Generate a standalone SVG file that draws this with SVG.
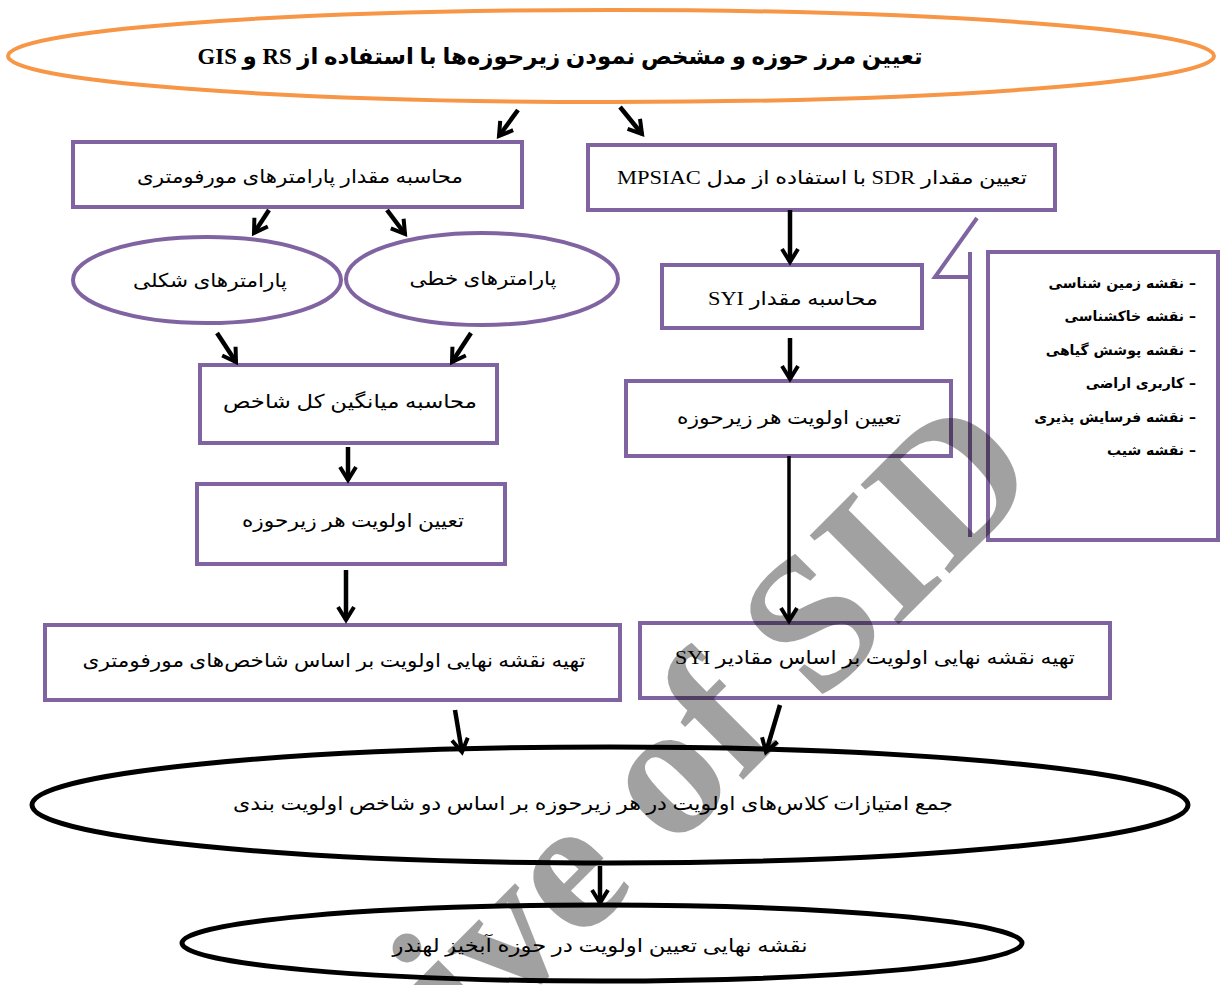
<svg xmlns="http://www.w3.org/2000/svg" width="1220" height="985" viewBox="0 0 1220 985">
<defs>
<style>
.bg{fill:#fff}
.box{fill:#fff;stroke:#8064A2;stroke-width:4}
.pell{fill:#fff;stroke:#8064A2;stroke-width:4}
.bell{fill:#fff;stroke:#000;stroke-width:5}
.oell{fill:#fff;stroke:#F79646;stroke-width:4}
.t{font-family:"Liberation Serif","DejaVu Sans",serif;font-size:19px;fill:#000;direction:rtl;text-anchor:middle}
.tb{font-family:"Liberation Serif","DejaVu Sans",serif;font-size:23px;font-weight:bold;fill:#000;direction:rtl;text-anchor:middle}
.li{font-family:"DejaVu Sans",sans-serif;font-size:14px;font-weight:bold;fill:#000;direction:rtl;text-anchor:start}
.ar{fill:none;stroke:#000;stroke-width:4.5;marker-end:url(#ah)}
.call{fill:none;stroke:#8064A2;stroke-width:4}
.wm{font-family:"Liberation Serif",serif;font-size:192px;font-weight:bold;fill:#000;fill-opacity:0.37;text-anchor:end}
</style>
<marker id="ah" viewBox="0 0 20 20" refX="16" refY="10" markerWidth="20" markerHeight="20" markerUnits="userSpaceOnUse" orient="auto">
<path d="M3,2 L16,10 L3,18" fill="none" stroke="#000" stroke-width="4"/>
</marker>
</defs>
<rect class="bg" x="0" y="0" width="1220" height="985"/>

<g id="top">
<ellipse class="oell" cx="611" cy="56" rx="603" ry="46"/>
<text class="tb" x="560" y="64" textLength="725" lengthAdjust="spacingAndGlyphs">تعیین مرز حوزه و مشخص نمودن زیرحوزه‌ها با استفاده از RS و GIS</text>
</g>

<g id="L1">
<rect class="box" x="73" y="142" width="449" height="65"/>
<text class="t" x="300" y="183" textLength="326" lengthAdjust="spacingAndGlyphs">محاسبه مقدار پارامترهای مورفومتری</text>
</g>

<g id="R1">
<rect class="box" x="588" y="145" width="467" height="65"/>
<text class="t" x="822" y="184" textLength="410" lengthAdjust="spacingAndGlyphs">تعیین مقدار SDR با استفاده از مدل MPSIAC</text>
</g>

<g id="E1">
<ellipse class="pell" cx="207" cy="280" rx="134" ry="43"/>
<text class="t" x="210" y="287" textLength="154" lengthAdjust="spacingAndGlyphs">پارامترهای شکلی</text>
</g>

<g id="E2">
<ellipse class="pell" cx="482" cy="279" rx="136" ry="46"/>
<text class="t" x="483" y="285" textLength="147" lengthAdjust="spacingAndGlyphs">پارامترهای خطی</text>
</g>

<g id="L2">
<rect class="box" x="200" y="365" width="297" height="78"/>
<text class="t" x="350" y="408" textLength="254" lengthAdjust="spacingAndGlyphs">محاسبه میانگین کل شاخص</text>
</g>

<g id="L3">
<rect class="box" x="197" y="484" width="308" height="80"/>
<text class="t" x="353" y="527" textLength="222" lengthAdjust="spacingAndGlyphs">تعیین اولویت هر زیرحوزه</text>
</g>

<g id="L4">
<rect class="box" x="45" y="625" width="575" height="75"/>
<text class="t" x="334" y="667" textLength="503" lengthAdjust="spacingAndGlyphs">تهیه نقشه نهایی اولویت بر اساس شاخص‌های مورفومتری</text>
</g>

<g id="R2">
<rect class="box" x="662" y="265" width="260" height="63"/>
<text class="t" x="793" y="305" textLength="170" lengthAdjust="spacingAndGlyphs">محاسبه مقدار SYI</text>
</g>

<g id="R3">
<rect class="box" x="626" y="381" width="325" height="75"/>
<text class="t" x="789" y="424" textLength="224" lengthAdjust="spacingAndGlyphs">تعیین اولویت هر زیرحوزه</text>
</g>

<g id="R4">
<rect class="box" x="640" y="623" width="470" height="75"/>
<text class="t" x="875" y="664" textLength="400" lengthAdjust="spacingAndGlyphs">تهیه نقشه نهایی اولویت بر اساس مقادیر SYI</text>
</g>

<g id="B1">
<ellipse class="bell" cx="610" cy="805" rx="578" ry="58"/>
<text class="t" x="593" y="810" textLength="720" lengthAdjust="spacingAndGlyphs">جمع امتیازات کلاس‌های اولویت در هر زیرحوزه بر اساس دو شاخص اولویت بندی</text>
</g>

<g id="B2">
<ellipse class="bell" cx="602" cy="943" rx="420" ry="38"/>
<text class="t" x="600" y="952" textLength="415" lengthAdjust="spacingAndGlyphs">نقشه نهایی تعیین اولویت در حوزه آبخیز لهندر</text>
</g>

<g id="legend">
<path class="call" d="M977,218 L935,277 L970,277 M970,252 L970,537"/>
<rect class="box" x="988" y="252" width="230" height="288"/>
<text class="li" x="1196" y="288">– نقشه زمین شناسی</text>
<text class="li" x="1196" y="321">– نقشه خاکشناسی</text>
<text class="li" x="1196" y="355">– نقشه  پوشش گیاهی</text>
<text class="li" x="1196" y="388">– کاربری اراضی</text>
<text class="li" x="1196" y="422">– نقشه فرسایش پذیری</text>
<text class="li" x="1196" y="455">– نقشه شیب</text>
</g>

<g id="connectors">
<line class="ar" x1="518" y1="110" x2="499" y2="136"/>
<line class="ar" x1="620" y1="107" x2="642" y2="134"/>
<line class="ar" x1="269" y1="210" x2="254" y2="233"/>
<line class="ar" x1="387" y1="210" x2="405" y2="234"/>
<line class="ar" x1="217" y1="333" x2="236" y2="362"/>
<line class="ar" x1="471" y1="333" x2="452" y2="362"/>
<line class="ar" x1="348" y1="447" x2="348" y2="480"/>
<line class="ar" x1="346" y1="570" x2="346" y2="620"/>
<line class="ar" x1="455" y1="710" x2="462" y2="752"/>
<line class="ar" x1="790" y1="210" x2="790" y2="262"/>
<line class="ar" x1="790" y1="338" x2="790" y2="379"/>
<line class="ar" x1="789" y1="456" x2="789" y2="621" style="stroke-width:3.5"/>
<line class="ar" x1="780" y1="705" x2="766" y2="752"/>
<line class="ar" x1="600" y1="866" x2="600" y2="903"/>
</g>

<text class="wm" transform="translate(1045,478) rotate(-45)">Archive of SID</text>
</svg>
